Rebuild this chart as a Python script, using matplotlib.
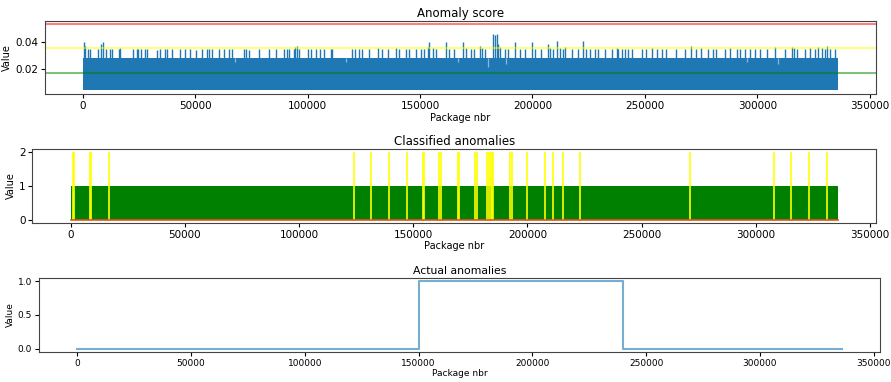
import matplotlib
matplotlib.use("Agg")
import matplotlib.pyplot as plt
from matplotlib import font_manager


N_PACKAGES = 336000

# anomaly score: dense body of the signal and the peaks that stick out above it
SCORE_LOW = 0.0048
SCORE_HIGH = 0.0285
SPIKE_X = [400, 1200, 2240, 3430, 6700, 8200, 8800, 10450, 11900, 13000,
           16000, 16550, 22400, 23900, 24600, 26100, 27600, 28400, 32800, 34300,
           36600, 37300, 39600, 43300, 45500, 47800, 50300, 53000, 55200, 56000,
           57500, 60400, 62700, 64900, 66400, 71600, 72700, 73900, 78400, 82800,
           85800, 89400, 90900, 91700, 93900, 94600, 95400, 96100, 100300, 101300,
           103600, 105400, 107300, 110300, 111000, 119900, 121100, 122900, 124100, 127400,
           131100, 133300, 135600, 139300, 140800, 143800, 145200, 148200, 150400, 151900,
           153400, 154200, 155700, 157100, 161600, 163100, 165300, 169000, 170500, 172800,
           174000, 176600, 177600, 178800, 182300, 183200, 184100, 184700, 185500, 187700,
           189200, 192100, 194400, 196600, 199600, 201000, 204000, 207000, 207700, 209200,
           211100, 212200, 213600, 214400, 217400, 220300, 222600, 224000, 225500, 227700,
           229200, 232200, 235200, 237400, 238100, 239600, 241100, 242600, 244100, 248500,
           250700, 253000, 255200, 257400, 259600, 264000, 267700, 270700, 272900, 275100,
           278100, 280400, 281800, 285600, 287800, 290800, 292300, 294500, 296700, 299000,
           301200, 304200, 307900, 312400, 315300, 316100, 317600, 321300, 323500, 325700,
           327200, 328700, 330200, 331000, 332400, 334700]
SPIKE_Y = [0.0395, 0.0370, 0.0350, 0.0345, 0.0350, 0.0380, 0.0395, 0.0350, 0.0350, 0.0345,
           0.0350, 0.0355, 0.0350, 0.0345, 0.0350, 0.0350, 0.0345, 0.0350, 0.0340, 0.0350,
           0.0350, 0.0345, 0.0350, 0.0350, 0.0345, 0.0350, 0.0340, 0.0350, 0.0345, 0.0350,
           0.0350, 0.0350, 0.0345, 0.0350, 0.0350, 0.0350, 0.0345, 0.0340, 0.0350, 0.0350,
           0.0350, 0.0350, 0.0345, 0.0350, 0.0350, 0.0360, 0.0365, 0.0350, 0.0350, 0.0345,
           0.0350, 0.0350, 0.0345, 0.0350, 0.0350, 0.0350, 0.0345, 0.0350, 0.0350, 0.0350,
           0.0355, 0.0350, 0.0350, 0.0355, 0.0350, 0.0345, 0.0350, 0.0350, 0.0350, 0.0345,
           0.0360, 0.0395, 0.0355, 0.0350, 0.0395, 0.0350, 0.0350, 0.0395, 0.0355, 0.0350,
           0.0350, 0.0365, 0.0355, 0.0350, 0.0455, 0.0445, 0.0455, 0.0380, 0.0360, 0.0350,
           0.0350, 0.0395, 0.0350, 0.0350, 0.0395, 0.0350, 0.0345, 0.0385, 0.0355, 0.0350,
           0.0405, 0.0355, 0.0350, 0.0360, 0.0350, 0.0350, 0.0405, 0.0350, 0.0350, 0.0345,
           0.0350, 0.0350, 0.0350, 0.0355, 0.0350, 0.0350, 0.0350, 0.0345, 0.0350, 0.0350,
           0.0350, 0.0355, 0.0350, 0.0345, 0.0350, 0.0350, 0.0350, 0.0370, 0.0350, 0.0355,
           0.0350, 0.0345, 0.0350, 0.0350, 0.0355, 0.0350, 0.0350, 0.0350, 0.0350, 0.0350,
           0.0350, 0.0345, 0.0360, 0.0350, 0.0360, 0.0355, 0.0350, 0.0350, 0.0355, 0.0350,
           0.0360, 0.0355, 0.0350, 0.0365, 0.0350, 0.0345]
# places where the local maximum falls below the body of the signal
DIP_X = [67900, 117000, 166800, 180300, 188400, 295200, 309400]
DIP_Y = [0.0250, 0.0250, 0.0255, 0.0217, 0.0240, 0.0255, 0.0240]

# thresholds
THRESH_LOW = 0.01765
THRESH_MID = 0.0353
THRESH_HIGH = 0.05295

# classified anomalies (packages flagged at level 2)
CLASSIFIED_X = [1000, 1500, 8400, 8800, 16700, 124000, 131500, 139300, 147200, 154200,
                154500, 161400, 162200, 169400, 170000, 177000, 177700, 182500, 183300, 183900,
                184500, 185000, 192400, 193100, 200000, 207600, 211300, 215500, 223000, 271000,
                307900, 315600, 323300, 331100]

# ground truth: anomaly window
ACTUAL_X = [0, 150000, 150000, 240000, 240000, N_PACKAGES]
ACTUAL_Y = [0, 0, 1, 1, 0, 0]

XTICKS = [0, 50000, 100000, 150000, 200000, 250000, 300000, 350000]
XLIM = (-16800, 352800)

plt.rcParams["font.family"] = "DejaVu Sans"

# narrow face for the last panel, if it is there
installed = {f.name for f in font_manager.fontManager.ttflist}
NARROW = "Liberation Sans Narrow" if "Liberation Sans Narrow" in installed else "DejaVu Sans"

fig = plt.figure(figsize=(8.91, 3.82), dpi=100)


def style_axes(ax, title, family="DejaVu Sans", tick_size=7.5, label_size=7, title_size=8.5):
    ax.set_title(title, fontsize=title_size, pad=3, family=family)
    ax.set_xlabel("Package nbr", fontsize=label_size, labelpad=1, family=family)
    ax.set_ylabel("Value", fontsize=label_size, labelpad=2, family=family)
    ax.set_xticks(XTICKS)
    ax.set_xlim(*XLIM)
    ax.tick_params(labelsize=tick_size, length=3, pad=2)
    for lab in ax.get_xticklabels() + ax.get_yticklabels():
        lab.set_family(family)
    for s in ax.spines.values():
        s.set_linewidth(0.8)
        s.set_color("#444444")


# --- anomaly score ---
ax1 = fig.add_axes([0.0505, 0.7531, 0.9327, 0.1927])
ax1.fill_between([0, N_PACKAGES], SCORE_LOW, SCORE_HIGH, color="#1f77b4", lw=0)
ax1.vlines(SPIKE_X, SCORE_HIGH - 0.001, SPIKE_Y, color="#1f77b4", lw=1.0)
ax1.vlines(DIP_X, DIP_Y, SCORE_HIGH, color="#8db7da", lw=0.9)
ax1.axhline(THRESH_HIGH, color="red", alpha=0.5, lw=1.5)
ax1.axhline(THRESH_MID, color="yellow", alpha=0.5, lw=1.5)
ax1.axhline(THRESH_LOW, color="green", alpha=0.5, lw=1.5)
ax1.set_ylim(0.0019, 0.0551)
ax1.set_yticks([0.02, 0.04])
style_axes(ax1, "Anomaly score")

# --- classified anomalies ---
ax2 = fig.add_axes([0.0363, 0.4162, 0.9473, 0.1937])
ax2.fill_between([0, N_PACKAGES], 0, 1, color="green", lw=0)
ax2.vlines(CLASSIFIED_X, 0, 2, color="yellow", alpha=0.85, lw=1.4)
ax2.plot([0, N_PACKAGES], [0, 0], color="#e8501e", lw=1.2)
ax2.set_ylim(-0.1, 2.1)
ax2.set_yticks([0, 1, 2])
style_axes(ax2, "Classified anomalies")

# --- actual anomalies ---
ax3 = fig.add_axes([0.0438, 0.0785, 0.9439, 0.194])
ax3.plot(ACTUAL_X, ACTUAL_Y, color="#1f77b4", alpha=0.6, lw=1.5)
ax3.set_ylim(-0.05, 1.05)
ax3.set_yticks([0.0, 0.5, 1.0])
if NARROW == "DejaVu Sans":
    style_axes(ax3, "Actual anomalies", tick_size=6.5, label_size=6.5, title_size=7.8)
else:
    style_axes(ax3, "Actual anomalies", family=NARROW, tick_size=8, label_size=8, title_size=9)

fig.savefig("out.png", dpi=100)
